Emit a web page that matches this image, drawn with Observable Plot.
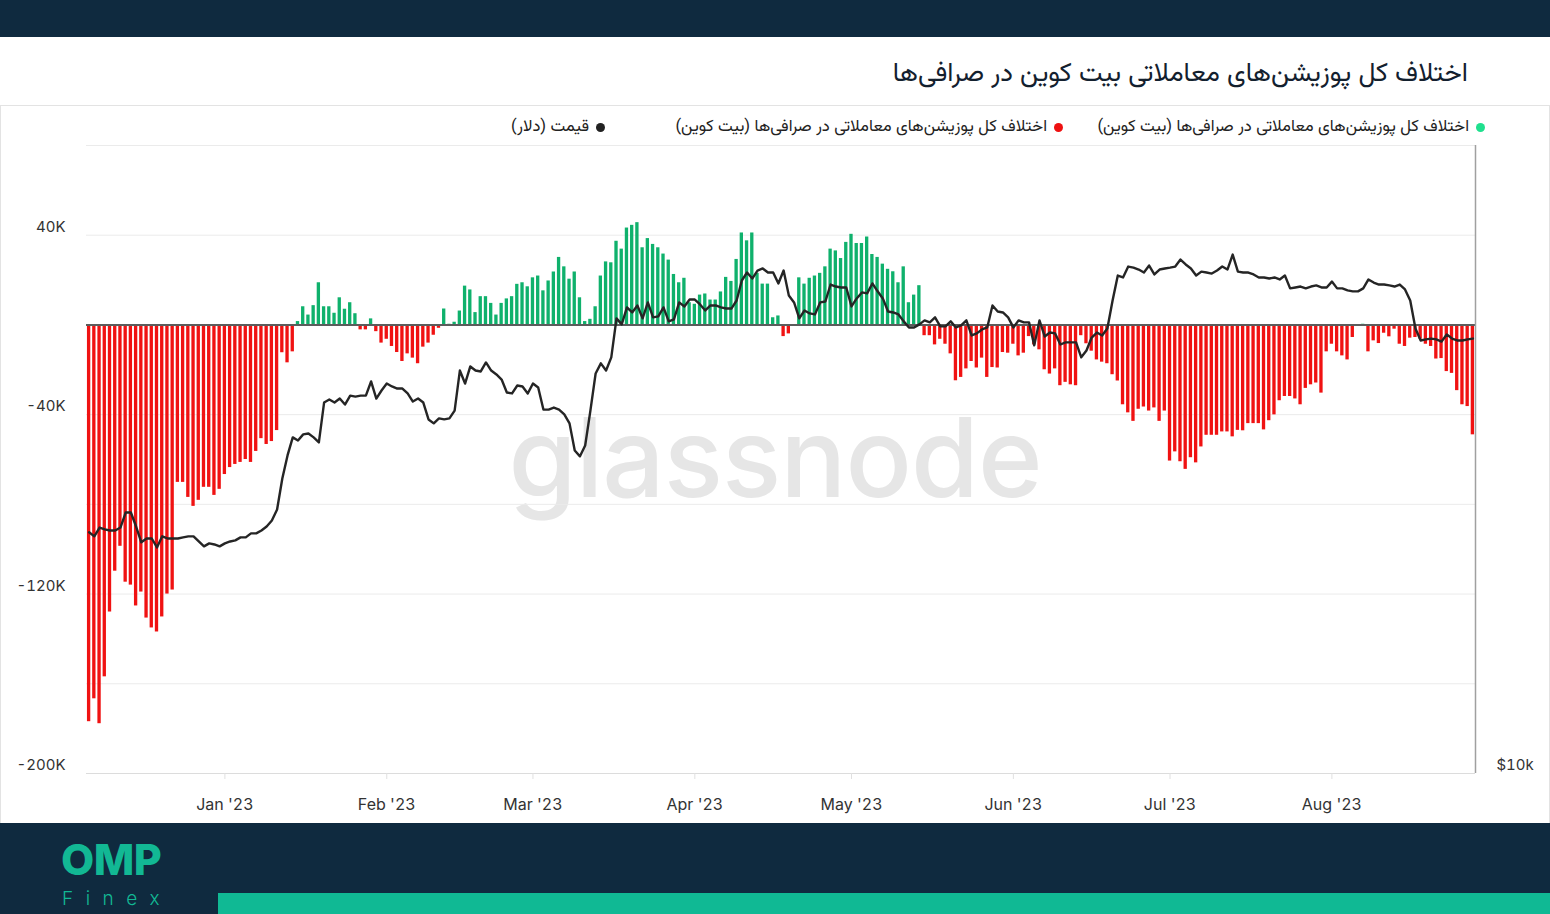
<!DOCTYPE html>
<html>
<head>
<meta charset="utf-8">
<script src="https://cdn.jsdelivr.net/npm/d3@7"></script>
<script src="https://cdn.jsdelivr.net/npm/@observablehq/plot@0.6"></script>
<style>
  html, body { margin: 0; padding: 0; }
  body { width: 1550px; height: 914px; position: relative; overflow: hidden; background: #fff; font-family: Inter, "Noto Sans", sans-serif; }
  .topbar { position: absolute; left: 0; top: 0; width: 1550px; height: 37px; background: #0f2a3f; }
  .title { position: absolute; right: 82px; top: 54px; font-size: 26.5px; color: #13202e; direction: rtl; white-space: nowrap;
           font-family: "Vazirmatn", "Noto Sans Arabic", "DejaVu Sans", sans-serif; }
  .sep { position: absolute; left: 0; top: 105px; width: 1550px; height: 1px; background: #e3e3e3; }
  .vl { position: absolute; top: 105px; width: 1px; height: 718px; background: #e3e3e3; }
  .leg { position: absolute; top: 114px; display: flex; flex-direction: row-reverse; align-items: center; gap: 7px;
         font-size: 16.6px; color: #222; white-space: nowrap; font-family: "Vazirmatn", "Noto Sans Arabic", "DejaVu Sans", sans-serif; }
  .leg .dot { width: 9px; height: 9px; border-radius: 50%; }
  .leg .txt { direction: rtl; }
  .wm { position: absolute; left: 0; width: 1550px; text-align: center; top: 390px; font-size: 110px; font-weight: 500;
        color: #e6e6e6; font-family: Inter, sans-serif; letter-spacing: -1px; }
  #chart { position: absolute; left: 0; top: 140px; }
  .footer { position: absolute; left: 0; top: 823px; width: 1550px; height: 91px; background: #0f2a3f; }
  .omp { position: absolute; left: 61px; top: 20px; font-size: 43px; font-weight: 800; color: #12b894; letter-spacing: -0.5px; line-height: 0.75; font-family: Inter, sans-serif; }
  .finex { position: absolute; left: 62px; top: 68px; font-size: 19px; font-weight: 300; color: #12b894; letter-spacing: 12.5px; line-height: 0.8; font-family: Inter, sans-serif; }
  .tealbar { position: absolute; left: 218px; top: 70px; width: 1332px; height: 21px; background: #10b994; }
</style>
</head>
<body>
<div class="topbar"></div>
<div class="title">اختلاف کل پوزیشن‌های معاملاتی بیت کوین در صرافی‌ها</div>
<div class="sep"></div>
<div class="vl" style="left:0"></div>
<div class="vl" style="left:1549px"></div>
<div class="leg" style="right:65px"><span class="dot" style="background:#1fe08e"></span><span class="txt">اختلاف کل پوزیشن‌های معاملاتی در صرافی‌ها (بیت کوین)</span></div>
<div class="leg" style="right:487px"><span class="dot" style="background:#ee1111"></span><span class="txt">اختلاف کل پوزیشن‌های معاملاتی در صرافی‌ها (بیت کوین)</span></div>
<div class="leg" style="right:945px"><span class="dot" style="background:#222"></span><span class="txt">قیمت (دلار)</span></div>
<div class="wm">glassnode</div>
<div id="chart"></div>
<div class="footer">
  <div class="omp">OMP</div>
  <div class="finex">Finex</div>
  <div class="tealbar"></div>
</div>
<script>
// ---- data ----
const startDate = "2022-12-06";   // first daily bar
const netPositions = [
-176900,-166700,-177800,-156900,-128000,-109800,-98700,-114700,-116000,-125300,
-119100,-130700,-135100,-136900,-130200,-120000,-118200,-70200,-70200,-76900,
-80900,-78200,-72400,-72400,-76000,-73300,-66700,-63600,-62200,-61300,
-60000,-61300,-56400,-50700,-53300,-52000,-47100,-12400,-16900,-12000,
1500,8100,4400,8600,18800,8100,8100,5200,12100,7000,
9900,5000,-2200,-2200,2700,-3000,-8100,-6400,-9600,-12300,
-16300,-12900,-14800,-17300,-9900,-8100,-4600,-1500,7100,300,
1200,6200,17300,15600,5500,12600,12600,
9600,4400,9600,11600,12600,18100,18800,17000,21000,21800,
15200,19600,23600,30100,25900,20400,23600,12100,1500,2500,
8100,21800,28100,27700,37300,33800,43200,44400,45600,34400,
38500,35900,34400,31600,28900,22500,18800,
20800,9900,9200,13300,13800,11100,11100,14700,21200,19400,
29200,41000,37500,41000,23000,18200,18200,3200,4000,-5200,
-4000,0,21000,18200,20800,21800,23000,25900,33800,33000,
29600,36800,40400,36300,36300,39200,
31400,30100,27100,24800,23700,18800,25900,9900,13300,17500,
-4800,-4800,-8900,-6400,-8600,-12900,-24900,-23400,-19600,-16300,
-19200,-14800,-23400,-19000,-19200,-12300,-12600,-8600,-13800,-12600,
-5200,-8900,-11100,-20000,-21900,-19600,-27100,
-25600,-26700,-27100,-4800,-8400,-11700,-15600,-16600,-17300,-22200,
-25000,-35600,-39200,-43000,-37600,-36600,-38400,-37000,-43000,-38400,
-60700,-56600,-61000,-64400,-59200,-61500,-54400,-49200,-49200,-49200,
-47700,-47700,-49900,-47000,-47200,-44000,-44000,-44000,
-46800,-42700,-40100,-33800,-31900,-31900,-33000,-35600,-28300,-26700,
-25900,-30400,-12000,-8600,-12000,-13800,-15600,-5600,0,300,
-12000,-7100,-8300,-3700,-5300,-1900,-8600,-9600,-5900,-5600,
-6400,-8600,-9600,-15200,-15000,-20800,-21600,-29300,-35600,-36400,
-49000];
const priceUsd = [
17030,16880,17210,17140,17100,17100,17210,17790,17790,17250,
16660,16800,16800,16470,16880,16800,16800,16800,16840,16880,
16880,16690,16510,16620,16580,16510,16620,16690,16730,16840,
16840,16990,16990,17100,17250,17480,17910,19180,20180,21000,
20860,21140,21180,21000,20770,22680,22830,22680,22880,22580,
23030,22980,23030,23030,23760,22880,23290,23650,23500,23390,
23390,23140,22730,22880,22680,21850,21660,21900,21850,21900,
22280,24340,23650,24560,24340,24290,24780,24340,24130,23860,
23190,23140,23550,23500,23140,23650,23450,22330,22330,22430,
22330,22090,21660,20400,20140,20630,22280,24180,24730,24340,
25060,27310,26950,27980,27670,28100,27310,28290,27370,27430,
27980,27130,27250,28290,28040,28470,28470,28160,27790,28100,
28100,27980,27910,27910,28410,29690,30220,29820,30350,30490,
30220,30220,29500,30350,28730,28290,27310,27790,27610,27550,
28290,28350,29430,29300,29240,29240,28040,28540,28920,28860,
29500,28990,28540,27730,27670,27550,27130,26770,26770,26950,
27190,27070,27370,26830,26830,27130,26770,26890,27190,26300,
26420,26650,26770,28100,27730,27670,27370,26770,27190,27070,
27070,25730,27190,26240,26470,26420,25780,25900,25900,25900,
25060,25440,26180,26470,26300,26710,28410,30020,29890,30620,
30550,30420,30220,30690,30090,30420,30490,30550,30620,31100,
30760,30490,30020,30280,30220,30150,30350,30620,30420,31440,
30280,30220,30220,30090,29890,29890,29820,29890,29760,30020,
29180,29240,29300,29180,29300,29370,29240,29240,29620,29180,
29180,29050,28990,28990,29180,29760,29560,29430,29430,29370,
29300,29430,29110,28410,26710,26010,26070,26120,26070,25950,
26360,26120,26010,26010,26070,26120];
const yGridTicks = [80000, 40000, 0, -40000, -80000, -120000, -160000, -200000];
const yLabelTicks = [40000, -40000, -120000, -200000];
const monthTicks = ["2023-01-01","2023-02-01","2023-03-01","2023-04-01","2023-05-01","2023-06-01","2023-07-01","2023-08-01"];
const priceDomain = [10000, 40000];   // right (log) axis
const priceLabel = "$10k";

// ---- build ----
const DAY = 864e5, HALF = DAY / 2;
const t0 = new Date(startDate + "T00:00:00Z").getTime();
const rows = netPositions.map((v, i) => ({date: new Date(t0 + i * DAY), value: v, price: priceUsd[i]}));
const xDomain = [new Date(t0 - HALF), new Date(t0 + (rows.length - 1) * DAY + HALF)];
const yDomain = [-200000, 80000];
const pScale = d3.scaleLog().domain(priceDomain).range(yDomain);
const yPrice = p => pScale(p);

const chart = Plot.plot({
  width: 1550, height: 680,
  marginTop: 5, marginBottom: 47, marginLeft: 86, marginRight: 75,
  style: {background: "transparent", fontFamily: "Inter, sans-serif", color: "#333"},
  x: {type: "utc", domain: xDomain, label: null},
  y: {domain: yDomain, label: null},
  marks: [
    Plot.gridY(yGridTicks, {stroke: "#ebebeb", strokeOpacity: 1}),
    Plot.rect(rows.filter(d => d.value >= 0), {x1: d => new Date(+d.date - HALF), x2: d => new Date(+d.date + HALF), y1: 0, y2: "value", fill: "#0fb16c", insetLeft: 0.95, insetRight: 0.95}),
    Plot.rect(rows.filter(d => d.value < 0), {x1: d => new Date(+d.date - HALF), x2: d => new Date(+d.date + HALF), y1: 0, y2: "value", fill: "#f01212", insetLeft: 0.95, insetRight: 0.95}),
    Plot.ruleY([0], {stroke: "#5c5c5c", strokeWidth: 2}),
    Plot.ruleY([-200000], {stroke: "#dcdcdc"}),
    Plot.ruleX([xDomain[1]], {stroke: "#a0a0a0", strokeWidth: 1.5}),
    Plot.line(rows, {x: "date", y: d => yPrice(d.price), stroke: "#252525", strokeWidth: 2.4}),
    Plot.axisY(yLabelTicks, {tickSize: 0, tickPadding: 21, dy: -8, fontSize: 15, fill: "#333", tickFormat: d => (d / 1000) + "K", label: null}),
    Plot.axisY([yPrice(priceDomain[0])], {anchor: "right", tickSize: 0, tickPadding: 21, dy: -8, fontSize: 15, fill: "#333", tickFormat: () => priceLabel, label: null}),
    Plot.axisX(monthTicks.map(s => new Date(s + "T00:00:00Z")), {tickSize: 6, stroke: "#e0e0e0", fill: "#333", tickPadding: 19, fontSize: 16, tickFormat: d3.utcFormat("%b '%y"), label: null})
  ]
});
document.getElementById("chart").appendChild(chart);
</script>
</body>
</html>
